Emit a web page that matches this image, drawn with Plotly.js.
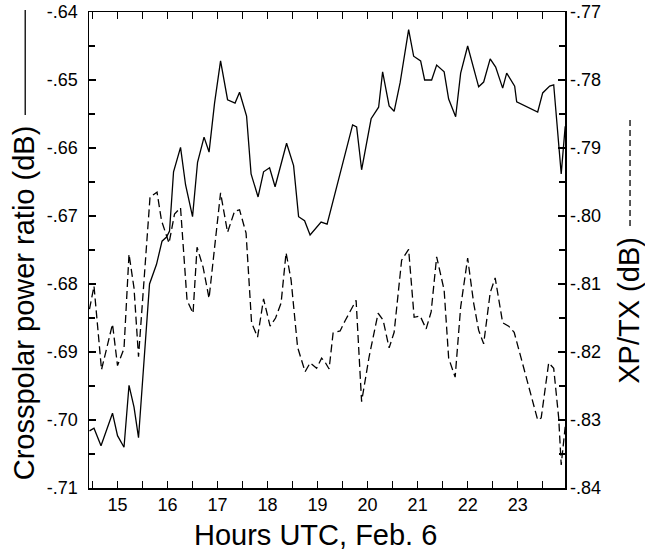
<!DOCTYPE html>
<html>
<head>
<meta charset="utf-8">
<script src="https://cdn.plot.ly/plotly-3.0.1.min.js"></script>
<style>html,body{margin:0;padding:0;background:#fff;}#chart{width:645px;height:555px;}</style>
</head>
<body>
<div id="chart"></div>
<script>
// Hours UTC, Feb. 6
const crossHours = [14.44,14.53,14.67,14.90,15.00,15.13,15.23,15.33,15.42,15.54,15.64,15.78,15.89,15.98,16.04,16.12,16.26,16.36,16.50,16.60,16.73,16.83,16.94,17.06,17.20,17.35,17.44,17.58,17.67,17.81,17.92,18.04,18.15,18.38,18.52,18.62,18.74,18.85,19.07,19.19,19.48,19.70,19.78,19.88,20.07,20.22,20.30,20.43,20.53,20.65,20.82,20.92,21.06,21.14,21.28,21.38,21.53,21.62,21.76,21.86,22.00,22.10,22.22,22.32,22.45,22.56,22.70,22.78,22.94,22.98,23.40,23.50,23.64,23.72,23.87,23.95];
// Crosspolar power ratio (dB), left axis, solid
const crossRatio = [-0.7016,-0.7012,-0.7038,-0.6990,-0.7023,-0.7040,-0.6949,-0.6981,-0.7026,-0.6907,-0.6800,-0.6771,-0.6737,-0.6731,-0.6722,-0.6635,-0.6599,-0.6654,-0.6701,-0.6621,-0.6584,-0.6606,-0.6534,-0.6472,-0.6529,-0.6534,-0.6518,-0.6553,-0.6638,-0.6672,-0.6635,-0.6629,-0.6657,-0.6593,-0.6626,-0.6701,-0.6707,-0.6728,-0.6709,-0.6712,-0.6628,-0.6566,-0.6569,-0.6632,-0.6557,-0.6540,-0.6488,-0.6538,-0.6546,-0.6504,-0.6426,-0.6465,-0.6472,-0.6500,-0.6500,-0.6478,-0.6488,-0.6528,-0.6554,-0.6490,-0.6450,-0.6479,-0.6510,-0.6503,-0.6469,-0.6481,-0.6512,-0.6490,-0.6509,-0.6532,-0.6547,-0.6519,-0.6509,-0.6507,-0.6638,-0.6568];

const xptxHours = [14.44,14.53,14.68,14.90,15.00,15.13,15.23,15.33,15.42,15.54,15.65,15.79,15.88,16.03,16.14,16.26,16.39,16.51,16.59,16.71,16.83,17.06,17.20,17.34,17.44,17.57,17.68,17.80,17.92,18.05,18.16,18.27,18.37,18.47,18.60,18.75,18.85,18.98,19.08,19.15,19.23,19.31,19.45,19.55,19.67,19.77,19.88,20.03,20.21,20.31,20.43,20.53,20.68,20.82,20.93,21.05,21.17,21.27,21.38,21.53,21.62,21.75,21.86,22.00,22.12,22.22,22.32,22.45,22.55,22.70,22.82,22.93,23.40,23.47,23.62,23.72,23.82,23.87,23.95];
// XP/TX (dB), right axis, dashed
const xptx = [-0.8137,-0.8103,-0.8226,-0.8159,-0.8220,-0.8195,-0.8056,-0.8106,-0.8207,-0.8079,-0.7972,-0.7965,-0.8007,-0.8040,-0.7997,-0.7988,-0.8124,-0.8143,-0.8046,-0.8075,-0.8121,-0.7966,-0.8024,-0.7993,-0.7991,-0.8025,-0.8157,-0.8178,-0.8122,-0.8162,-0.8150,-0.8128,-0.8054,-0.8094,-0.8193,-0.8229,-0.8216,-0.8224,-0.8209,-0.8215,-0.8225,-0.8172,-0.8169,-0.8154,-0.8137,-0.8124,-0.8273,-0.8207,-0.8143,-0.8153,-0.8194,-0.8171,-0.8065,-0.8049,-0.8149,-0.8147,-0.8166,-0.8141,-0.8060,-0.8109,-0.8209,-0.8237,-0.8134,-0.8062,-0.8128,-0.8168,-0.8188,-0.8113,-0.8091,-0.8157,-0.8162,-0.8171,-0.8300,-0.8297,-0.8216,-0.8224,-0.8297,-0.8366,-0.8310];

const xTickVals = [15,16,17,18,19,20,21,22,23];
const xTickText = ["15","16","17","18","19","20","21","22","23"];
const leftTickVals = [-0.64,-0.65,-0.66,-0.67,-0.68,-0.69,-0.70,-0.71];
const leftTickText = ["-.64","-.65","-.66","-.67","-.68","-.69","-.70","-.71"];
const rightTickVals = [-0.77,-0.78,-0.79,-0.80,-0.81,-0.82,-0.83,-0.84];
const rightTickText = ["-.77","-.78","-.79","-.80","-.81","-.82","-.83","-.84"];

const FONT = "Arial, 'Liberation Sans', Helvetica, sans-serif";

const traces = [
  {x: crossHours, y: crossRatio, type: 'scatter', mode: 'lines', yaxis: 'y',
   line: {color: '#000', width: 1.3}, hoverinfo: 'skip'},
  {x: xptxHours, y: xptx, type: 'scatter', mode: 'lines', yaxis: 'y2',
   line: {color: '#000', width: 1.3, dash: '8px,4px'}, hoverinfo: 'skip'}
];

const layout = {
  width: 645, height: 555,
  margin: {l: 89, r: 80, t: 12, b: 67, pad: 0},
  paper_bgcolor: '#fff', plot_bgcolor: '#fff',
  showlegend: false,
  font: {family: FONT, color: '#000', size: 18},
  xaxis: {
    range: [14.43, 23.946], showgrid: false, zeroline: false,
    showline: true, linecolor: '#000', linewidth: 1.5, mirror: 'allticks',
    ticks: 'inside', ticklen: 7, tickwidth: 1.3, tickcolor: '#000',
    tickvals: xTickVals, ticktext: xTickText,
    tickfont: {size: 18, family: FONT},
    minor: {dtick: 0.5, tick0: 14.5, ticks: 'inside', ticklen: 6, tickwidth: 1.3, tickcolor: '#000', showgrid: false}
  },
  yaxis: {
    range: [-0.71, -0.64], showgrid: false, zeroline: false,
    showline: true, linecolor: '#000', linewidth: 1.5, mirror: true,
    ticks: 'inside', ticklen: 7, tickwidth: 1.3, tickcolor: '#000',
    tickvals: leftTickVals, ticktext: leftTickText,
    tickfont: {size: 18, family: FONT}, ticklabelstandoff: 6,
    minor: {dtick: 0.005, tick0: -0.645, ticks: 'inside', ticklen: 6, tickwidth: 1.3, tickcolor: '#000', showgrid: false}
  },
  yaxis2: {
    range: [-0.84, -0.77], overlaying: 'y', side: 'right',
    showgrid: false, zeroline: false, showline: false,
    ticks: 'inside', ticklen: 7, tickwidth: 1.3, tickcolor: '#000',
    tickvals: rightTickVals, ticktext: rightTickText,
    tickfont: {size: 18, family: FONT}, ticklabelstandoff: 4,
    minor: {dtick: 0.005, tick0: -0.775, ticks: 'inside', ticklen: 6, tickwidth: 1.3, tickcolor: '#000', showgrid: false}
  },
  annotations: [
    {text: 'Hours UTC, Feb. 6', xref: 'paper', yref: 'paper', x: 0.4748, y: -0.099,
     xanchor: 'center', yanchor: 'middle', showarrow: false, font: {size: 29, family: FONT}},
    {text: 'Crosspolar power ratio (dB)', xref: 'paper', yref: 'paper', x: -0.136, y: 0.3887,
     xanchor: 'center', yanchor: 'middle', textangle: -90, showarrow: false, font: {size: 29, family: FONT}},
    {text: 'XP/TX (dB)', xref: 'paper', yref: 'paper', x: 1.134, y: 0.374,
     xanchor: 'center', yanchor: 'middle', textangle: -90, showarrow: false, font: {size: 29, family: FONT}}
  ],
  shapes: [
    {type: 'line', xref: 'paper', yref: 'paper', x0: -0.134, x1: -0.134, y0: 1.0042, y1: 0.7836,
     line: {color: '#000', width: 1.3}},
    {type: 'line', xref: 'paper', yref: 'paper', x0: 1.1366, x1: 1.1366, y0: 0.7731, y1: 0.5462,
     line: {color: '#000', width: 1.3, dash: '6px,4px'}}
  ]
};

Plotly.newPlot('chart', traces, layout, {staticPlot: true, displayModeBar: false});
</script>
</body>
</html>
